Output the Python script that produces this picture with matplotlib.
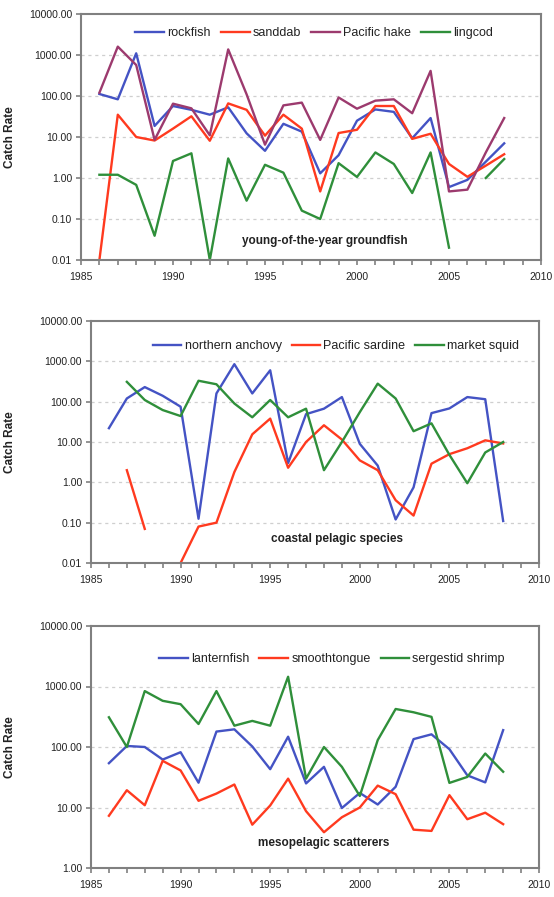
import numpy as np
import matplotlib
matplotlib.use("Agg")
import matplotlib.pyplot as plt
from matplotlib.ticker import FixedLocator, FuncFormatter, MultipleLocator

plt.rcParams['font.family'] = ['Liberation Sans', 'DejaVu Sans']

nan = np.nan
years = list(range(1986, 2009))

# young-of-the-year groundfish
rockfish = [112, 83, 1100, 18.6, 57, 46, 35, 53, 12.3, 4.6, 21, 13.5, 1.3, 3.6,
            25, 47, 41, 9.3, 29, 0.6, 0.9, 2.5, 7.0]
sanddab = [0.01, 35, 10, 8.2, 16, 32, 8.1, 66, 46, 10.8, 35, 16, 0.47, 12.5,
           15, 57, 57, 9.0, 12, 2.2, 1.07, 2.0, 3.8]
pacific_hake = [120, 1600, 570, 8.5, 65, 50, 11, 1370, 110, 6.5, 59, 69, 8.5, 92,
                49, 77, 83, 38, 410, 0.47, 0.52, 4.2, 29]
lingcod = [1.2, 1.2, 0.68, 0.039, 2.6, 4.0, 0.01, 3.0, 0.28, 2.1, 1.35, 0.16, 0.1, 2.3,
           1.06, 4.2, 2.2, 0.43, 4.2, 0.02, nan, 1.0, 2.9]

# coastal pelagic species
northern_anchovy = [22, 120, 230, 140, 75, 0.125, 160, 850, 160, 600, 3.0, 49, 67, 130,
                    9, 2.6, 0.12, 0.75, 52, 68, 130, 115, 0.11]
pacific_sardine = [nan, 2.0, 0.07, nan, 0.01, 0.08, 0.1, 1.8, 15.5, 38, 2.3, 10, 26, 11.5,
                   3.5, 2.0, 0.36, 0.15, 2.9, 5.0, 7.0, 11, 9.2]
market_squid = [nan, 310, 110, 62, 44, 330, 270, 90, 41, 110, 41, 67, 2.0, 10,
                55, 280, 120, 18.5, 29, 4.8, 0.95, 5.5, 10]

# mesopelagic scatterers
lanternfish = [54, 104, 100, 62, 82, 25.7, 180, 196, 102, 43, 148, 25, 47, 9.8,
               17.4, 11.2, 22, 135, 162, 92, 34, 26, 190]
smoothtongue = [7.3, 19.3, 10.9, 59, 41, 12.9, 17, 24, 5.2, 10.8, 30, 8.7, 3.9, 6.9,
                10, 23, 16.6, 4.3, 4.1, 16, 6.4, 8.2, 5.3]
sergestid_shrimp = [310, 100, 840, 580, 510, 240, 840, 225, 270, 225, 1450, 30, 100, 47,
                    15.5, 130, 425, 375, 315, 25.5, 32, 78, 39]

BLUE = '#4453c4'
RED = '#ff3a1f'
PURPLE = '#9c3a6e'
GREEN = '#2f8f3a'

W, H = 554, 897
fig = plt.figure(figsize=(W / 100, H / 100), dpi=100)


def add_axes(left, right, top, bottom):
    ax = fig.add_axes([left / W, 1 - bottom / H, (right - left) / W, (bottom - top) / H])
    ax._px = (left, right)
    return ax


def style(ax, ymin, ymax):
    ax.set_yscale('log')
    ax.set_ylim(ymin, ymax)
    ax.set_xlim(1985, 2010)
    decades = [10.0 ** k for k in range(int(np.log10(ymin)), int(np.log10(ymax)) + 1)]
    ax.yaxis.set_major_locator(FixedLocator(decades))
    ax.yaxis.set_minor_locator(FixedLocator([]))
    ax.yaxis.set_major_formatter(FuncFormatter(lambda v, p: f"{v:.2f}"))
    ax.xaxis.set_major_locator(MultipleLocator(5))
    ax.xaxis.set_minor_locator(MultipleLocator(1))
    for s in ax.spines.values():
        s.set_color('#808080')
        s.set_linewidth(1.5)
    ax.tick_params(axis='both', which='both', direction='out', color='#808080',
                   width=1.2, labelsize=7.5, labelcolor='#222222')
    ax.tick_params(axis='x', which='both', length=3.5, pad=5)
    ax.tick_params(axis='y', which='major', length=3.5, pad=3)
    for d in decades[1:-1]:
        ax.axhline(d, color='#cfcfcf', lw=0.9, ls=(0, (2.5, 3)), zorder=0)
    ax.set_ylabel('Catch Rate', fontsize=8.5, fontweight='bold', color='#222222')
    left, right = ax._px
    ax.yaxis.set_label_coords((16 - left) / (right - left), 0.5)


def legend(ax, handles, labels, cx, cy):
    ax.legend(handles, labels, loc='center', ncol=len(labels), frameon=False,
              bbox_to_anchor=(cx / W, 1 - cy / H), bbox_transform=fig.transFigure,
              fontsize=9, handlelength=2.3, handletextpad=0.25, columnspacing=0.8,
              labelcolor='#222222')


LW = 1.7

# Panel 1
ax1 = add_axes(81, 541, 14, 260)
style(ax1, 0.01, 10000)
h = []
h += ax1.plot(years, rockfish, color=BLUE, lw=LW)
h += ax1.plot(years, sanddab, color=RED, lw=LW)
h += ax1.plot(years, pacific_hake, color=PURPLE, lw=LW)
h += ax1.plot(years, lingcod, color=GREEN, lw=LW)
legend(ax1, h, ['rockfish', 'sanddab', 'Pacific hake', 'lingcod'], 314, 33)
fig.text(325 / W, 1 - 241 / H, 'young-of-the-year groundfish', ha='center', va='center',
         fontsize=8.5, fontweight='bold', color='#222222')

# Panel 2
ax2 = add_axes(91, 539, 321, 563)
style(ax2, 0.01, 10000)
h = []
h += ax2.plot(years, northern_anchovy, color=BLUE, lw=LW)
h += ax2.plot(years, pacific_sardine, color=RED, lw=LW)
h += ax2.plot(years, market_squid, color=GREEN, lw=LW)
legend(ax2, h, ['northern anchovy', 'Pacific sardine', 'market squid'], 336, 346)
fig.text(337 / W, 1 - 539 / H, 'coastal pelagic species', ha='center', va='center',
         fontsize=8.5, fontweight='bold', color='#222222')

# Panel 3
ax3 = add_axes(91, 539, 626, 868)
style(ax3, 1, 10000)
h = []
h += ax3.plot(years, lanternfish, color=BLUE, lw=LW)
h += ax3.plot(years, smoothtongue, color=RED, lw=LW)
h += ax3.plot(years, sergestid_shrimp, color=GREEN, lw=LW)
legend(ax3, h, ['lanternfish', 'smoothtongue', 'sergestid shrimp'], 332, 659)
fig.text(324 / W, 1 - 843 / H, 'mesopelagic scatterers', ha='center', va='center',
         fontsize=8.5, fontweight='bold', color='#222222')

fig.savefig('out.png', dpi=100)
